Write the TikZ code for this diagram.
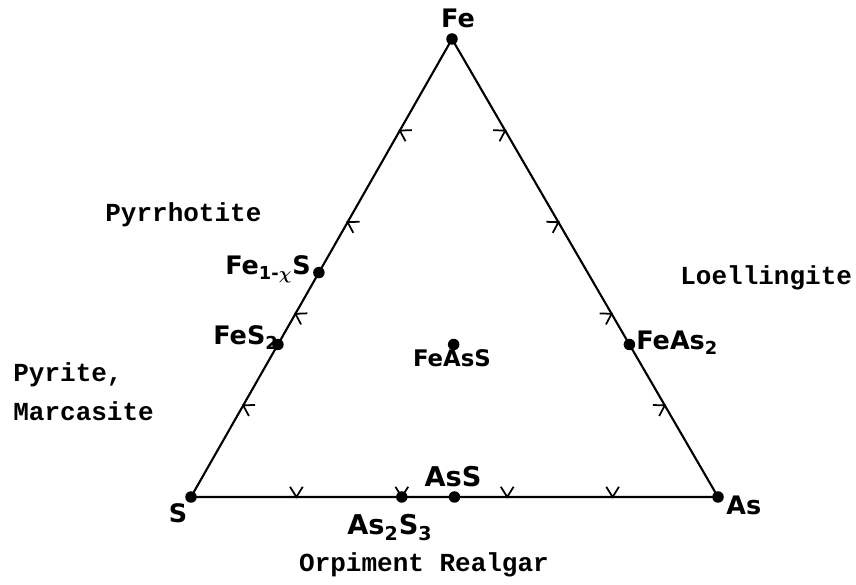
\documentclass[tikz,border=0pt]{standalone}
\usepackage{fontspec}
\setmainfont{DejaVu Sans}
\newfontfamily\namefont{Liberation Mono}
\usetikzlibrary{calc}

\begin{document}
\begin{tikzpicture}[x=0.02cm, y=0.02cm,
    dot/.style={circle, fill=black, inner sep=0pt, minimum size=0.23cm},
    formula/.style={inner sep=0pt, font=\bfseries\fontsize{14.5}{17}\selectfont},
    mineral/.style={inner sep=0pt, font=\namefont\bfseries\fontsize{14.8}{22}\selectfont},
    chev/.pic={\draw[line width=1pt] (32:12) -- (0,0) -- (-32:12);}]
    \useasboundingbox (0,0) rectangle (856,585);

    % corners and compounds
    \node[dot] (fe) at (452,546) {};
    \node[dot] (s) at (191,88) {};
    \node[dot] (as) at (718,88) {};
    \node[dot] (fe1xs) at ($(s)!0.49!(fe)$) {};
    \node[dot] (fes2) at ($(s)!0.333!(fe)$) {};
    \node[dot] (feas2) at ($(as)!0.333!(fe)$) {};
    \node[dot] (feass) at ($($(s)!0.5!(as)$)!0.333!(fe)$) {};
    \node[dot] (as2s3) at ($(s)!0.4!(as)$) {};
    \node[dot] (ass) at ($(s)!0.5!(as)$) {};

    \draw[line width=1.2pt] (fe.center) -- (s.center) -- (as.center) -- cycle;

    % ticks on the edges
    \foreach \t in {0.2,0.4,0.6,0.8} {
        \pic[rotate=-29.7] at ($(s)!\t!(fe)$) {chev};
        \pic[rotate=210.1] at ($(as)!\t!(fe)$) {chev};
        \pic[rotate=90] at ($(s)!\t!(as)$) {chev};
    }

    % formulas
    \node[formula, anchor=south] (lfe) at (458,557) {Fe};
    \node[formula, anchor=base] (ls) at (178,62) {S};
    \node[formula, anchor=base west] (las) at (726,70) {As};
    \node[formula, anchor=base east] (lfe1xs) at (311,310) {Fe\textsubscript{1-\boldmath$\chi$}S};
    \node[formula, anchor=base east] (lfes2) at (279,240) {FeS\textsubscript{2}};
    \node[formula, anchor=base west] (lfeas2) at (636,235) {FeAs\textsubscript{2}};
    \node[formula, anchor=base, font=\bfseries\fontsize{13}{16}\selectfont] (lfeass) at (452,218) {FeAsS};
    \node[formula, anchor=base, font=\bfseries\fontsize{15.5}{18}\selectfont] (lass) at (453,98) {AsS};
    \node[formula, anchor=base, font=\bfseries\fontsize{15.5}{18}\selectfont] (las2s3) at (390,50) {As\textsubscript{2}S\textsubscript{3}};

    % mineral names
    \node[mineral, anchor=west] (pyrrhotite) at (105,370) {Pyrrhotite};
    \node[mineral, anchor=west, align=left] (pyrite) at (13,193) {Pyrite,\\Marcasite};
    \node[mineral, anchor=west] (loellingite) at (680,307) {Loellingite};
    \node[mineral] (orpiment) at (424,20) {Orpiment Realgar};
\end{tikzpicture}
\end{document}
